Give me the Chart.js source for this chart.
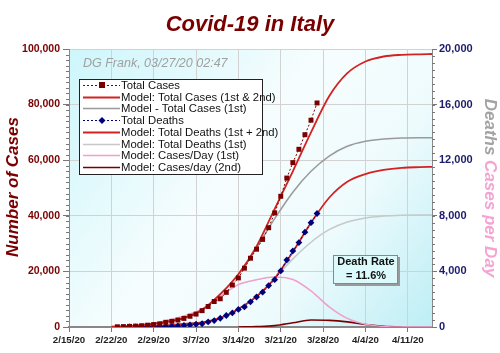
<!DOCTYPE html>
<html>
<head>
<meta charset="utf-8">
<script src="https://cdn.jsdelivr.net/npm/chart.js@4"></script>
<style>
  html, body { margin: 0; padding: 0; background: #fff; }
  #wrap { width: 500px; height: 353px; position: relative; }
</style>
</head>
<body>
<div id="wrap"><canvas id="covidChart" width="500" height="353"></canvas></div>
<script>
// x axis: days since 2/15/20
const tickDays = [0, 7, 14, 21, 28, 35, 42, 49, 56];
const tickLabels = ['2/15/20', '2/22/20', '2/29/20', '3/7/20', '3/14/20', '3/21/20', '3/28/20', '4/4/20', '4/11/20'];

// observed totals (plotted one day after report)
const caseDates = ['2/23', '2/24', '2/25', '2/26', '2/27', '2/28', '2/29', '3/1', '3/2', '3/3', '3/4', '3/5',
  '3/6', '3/7', '3/8', '3/9', '3/10', '3/11', '3/12', '3/13', '3/14', '3/15', '3/16', '3/17', '3/18', '3/19',
  '3/20', '3/21', '3/22', '3/23', '3/24', '3/25', '3/26', '3/27'];
const totalCases = [79, 152, 229, 322, 453, 655, 888, 1128, 1694, 2036, 2502, 3089, 3858, 4636, 5883, 7375,
  9172, 10149, 12462, 15113, 17660, 21157, 24747, 27980, 31506, 35713, 41035, 47021, 53578, 59138, 63927,
  69176, 74386, 80589];
const deathDates = ['2/25', '2/26', '2/27', '2/28', '2/29', '3/1', '3/2', '3/3', '3/4', '3/5', '3/6', '3/7',
  '3/8', '3/9', '3/10', '3/11', '3/12', '3/13', '3/14', '3/15', '3/16', '3/17', '3/18', '3/19', '3/20', '3/21',
  '3/22', '3/23', '3/24', '3/25', '3/26', '3/27'];
const totalDeaths = [7, 10, 12, 17, 21, 29, 34, 52, 79, 107, 148, 197, 233, 366, 463, 631, 827, 1016, 1266,
  1441, 1809, 2158, 2503, 2978, 3405, 4032, 4825, 5476, 6077, 6820, 7503, 8165];

// model curves
const modelDays = [7, 10, 13, 16, 19, 22, 25, 28, 31, 34, 37, 40, 43, 46, 49, 52, 55, 58, 60];
const modelCases12 = [100, 350, 900, 1800, 3300, 6200, 11800, 19000, 29000, 42500, 56000, 70000, 83000, 91300, 95500, 97300, 97900, 98100, 98200];
const modelCases1 = [100, 350, 900, 1800, 3300, 6200, 11800, 19000, 28500, 39000, 48500, 56000, 61500, 65000, 66800, 67600, 68000, 68100, 68100];
const modelDeaths12 = [0, 20, 50, 110, 230, 330, 650, 1300, 2200, 3500, 5400, 7500, 9300, 10450, 11000, 11300, 11450, 11500, 11520];
const modelDeaths1 = [0, 20, 50, 110, 230, 330, 650, 1300, 2200, 3500, 4900, 6100, 7000, 7550, 7850, 7980, 8040, 8060, 8060];
const modelPerDay1 = [0, 80, 220, 450, 800, 1300, 2200, 3050, 3400, 3600, 3420, 2600, 1450, 620, 200, 40, 0, 0, 0];
const modelPerDay2 = [null, null, null, null, null, null, null, 0, 30, 100, 300, 500, 480, 370, 180, 50, 5, null, null];

const legendNames = ['Total Cases', 'Model: Total Cases (1st & 2nd)', 'Model - Total Cases (1st)', 'Total Deaths',
  'Model: Total Deaths (1st + 2nd)', 'Model: Total Deaths (1st)', 'Model: Cases/Day (1st)', 'Model: Cases/day (2nd)'];

const FONT = '"Liberation Sans", Arial, sans-serif';

function dayIndex(md) {
  const [m, d] = md.split('/').map(Number);
  return Math.round((new Date(2020, m - 1, d) - new Date(2020, 1, 15)) / 86400000);
}
function pts(days, vals) {
  return days.map((d, i) => ({ x: typeof d === 'string' ? dayIndex(d) : d, y: vals[i] }));
}

function modelSet(label, vals, color, axis, width) {
  return {
    label: label,
    data: pts(modelDays, vals),
    yAxisID: axis,
    borderColor: color,
    borderWidth: width || 1.6,
    pointRadius: 0,
    cubicInterpolationMode: 'monotone',
    spanGaps: false,
    fill: false
  };
}

const chartDecor = {
  id: 'chartDecor',
  beforeDraw(chart) {
    const { ctx, chartArea: a } = chart;
    ctx.save();
    const g = ctx.createLinearGradient(a.left, a.top, a.right, a.bottom);
    g.addColorStop(0, '#cdf6fb');
    g.addColorStop(0.45, '#f7fdfe');
    g.addColorStop(0.7, '#eefbfd');
    g.addColorStop(1, '#bdeef5');
    ctx.fillStyle = g;
    ctx.fillRect(a.left, a.top, a.right - a.left, a.bottom - a.top);
    ctx.restore();
  },
  afterDatasetsDraw(chart) {
    const { ctx, chartArea: a, scales } = chart;
    ctx.save();
    // minor ticks
    ctx.strokeStyle = '#777';
    ctx.lineWidth = 1;
    const yl = scales.y, yr = scales.y1;
    for (let v = 0; v <= 100000; v += 2000) {
      const py = Math.round(yl.getPixelForValue(v)) + 0.5;
      ctx.beginPath(); ctx.moveTo(a.left - 3, py); ctx.lineTo(a.left, py); ctx.stroke();
    }
    for (let v = 0; v <= 20000; v += 500) {
      const py = Math.round(yr.getPixelForValue(v)) + 0.5;
      ctx.beginPath(); ctx.moveTo(a.right, py); ctx.lineTo(a.right + 3, py); ctx.stroke();
    }

    // title
    ctx.fillStyle = '#7a0000';
    ctx.font = 'italic bold 22px ' + FONT;
    ctx.textAlign = 'center';
    ctx.textBaseline = 'middle';
    ctx.fillText('Covid-19 in Italy', 250, 25);

    // left axis title
    ctx.save();
    ctx.translate(13, 187);
    ctx.rotate(-Math.PI / 2);
    ctx.font = 'italic bold 17px ' + FONT;
    ctx.fillStyle = '#7a0000';
    ctx.fillText('Number of Cases', 0, 0);
    ctx.restore();

    // right axis title, two colours
    ctx.save();
    ctx.translate(490, 188);
    ctx.rotate(Math.PI / 2);
    ctx.font = 'italic bold 17px ' + FONT;
    const p1 = 'Deaths ', p2 = 'Cases per Day';
    const w1 = ctx.measureText(p1).width, w2 = ctx.measureText(p2).width;
    ctx.textAlign = 'left';
    ctx.fillStyle = '#a3a3a3';
    ctx.fillText(p1, -(w1 + w2) / 2, 0);
    ctx.fillStyle = '#f5a3d3';
    ctx.fillText(p2, -(w1 + w2) / 2 + w1, 0);
    ctx.restore();

    // stamp
    ctx.font = 'italic 12.5px ' + FONT;
    ctx.fillStyle = '#a0a0a0';
    ctx.textAlign = 'left';
    ctx.fillText('DG Frank, 03/27/20 02:47', 83, 64);

    // legend box
    const sets = chart.data.datasets;
    ctx.fillStyle = '#fff';
    ctx.fillRect(79, 79, 183, 95);
    ctx.strokeStyle = '#222';
    ctx.lineWidth = 1;
    ctx.strokeRect(79.5, 79.5, 183, 95);
    ctx.font = '11.3px ' + FONT;
    legendNames.forEach((name, i) => {
      const ds = sets[i];
      const y = Math.round(85 + i * 11.7) + 0.5;
      ctx.save();
      ctx.strokeStyle = ds.borderColor;
      ctx.lineWidth = ds.borderDash ? 1 : ds.borderWidth;
      ctx.setLineDash(ds.borderDash || []);
      ctx.beginPath(); ctx.moveTo(83, y); ctx.lineTo(120, y); ctx.stroke();
      ctx.restore();
      if (ds.pointStyle === 'rect') {
        ctx.fillStyle = ds.pointBackgroundColor;
        ctx.fillRect(99, y - 3.5, 6, 6);
      } else if (ds.pointStyle === 'rectRot') {
        ctx.fillStyle = ds.pointBackgroundColor;
        ctx.beginPath();
        ctx.moveTo(102, y - 3.5); ctx.lineTo(105.5, y); ctx.lineTo(102, y + 3.5); ctx.lineTo(98.5, y);
        ctx.closePath(); ctx.fill();
      }
      ctx.fillStyle = '#111';
      ctx.textAlign = 'left';
      ctx.fillText(name, 121, y + 0.5);
    });

    // death rate box
    ctx.fillStyle = '#9a9a9a';
    ctx.fillRect(335, 257, 65, 29);
    ctx.fillStyle = '#dcf9fc';
    ctx.fillRect(333, 255, 65, 29);
    ctx.strokeStyle = '#888';
    ctx.strokeRect(333.5, 255.5, 64, 28);
    ctx.fillStyle = '#111';
    ctx.font = 'bold 11px ' + FONT;
    ctx.textAlign = 'center';
    ctx.fillText('Death Rate', 366, 261.5);
    ctx.fillText('= 11.6%', 366, 276);
    ctx.restore();
  }
};

const ctx = document.getElementById('covidChart').getContext('2d');
const covidChart = new Chart(ctx, {
  type: 'line',
  data: {
    datasets: [{
      label: legendNames[0],
      data: pts(caseDates, totalCases),
      yAxisID: 'y',
      borderColor: '#7a0000',
      borderWidth: 1,
      borderDash: [2, 2],
      pointStyle: 'rect',
      pointRadius: 3.5,
      pointBackgroundColor: '#7a0000',
      pointBorderColor: '#7a0000',
      pointBorderWidth: 0,
      fill: false
    },
    modelSet(legendNames[1], modelCases12, '#d42222', 'y', 1.8),
    modelSet(legendNames[2], modelCases1, '#9a9a9a', 'y', 1.5),
    {
      label: legendNames[3],
      data: pts(deathDates, totalDeaths),
      yAxisID: 'y1',
      borderColor: '#000080',
      borderWidth: 1,
      borderDash: [2, 2],
      pointStyle: 'rectRot',
      pointRadius: 3.4,
      pointBackgroundColor: '#00007a',
      pointBorderColor: '#00007a',
      pointBorderWidth: 0,
      fill: false
    },
    modelSet(legendNames[4], modelDeaths12, '#d42222', 'y1', 1.8),
    modelSet(legendNames[5], modelDeaths1, '#c8c8c8', 'y1', 1.5),
    modelSet(legendNames[6], modelPerDay1, '#f0a0cc', 'y1', 1.5),
    modelSet(legendNames[7], modelPerDay2, '#7a0000', 'y1', 1.6)]
  },
  options: {
    responsive: false,
    animation: false,
    layout: { padding: { top: 49, left: 0, right: 0, bottom: 0 } },
    plugins: {
      legend: { display: false },
      title: { display: false },
      tooltip: { enabled: false }
    },
    scales: {
      x: {
        type: 'linear',
        min: 0,
        max: 60,
        afterBuildTicks: (s) => { s.ticks = tickDays.map(v => ({ value: v })); },
        afterFit: (s) => { s.height = 26; },
        grid: { color: '#d2d2d2', tickLength: 5, tickColor: '#777' },
        border: { color: '#888', width: 2 },
        ticks: {
          callback: (v) => tickLabels[tickDays.indexOf(v)],
          font: { family: FONT, size: 9.7, weight: 'bold' },
          color: '#222',
          padding: 3,
          maxRotation: 0
        }
      },
      y: {
        position: 'left',
        min: 0,
        max: 100000,
        afterFit: (s) => { s.width = 69; },
        grid: { color: '#d2d2d2', tickLength: 6, tickColor: '#777' },
        border: { color: '#888' },
        ticks: {
          stepSize: 20000,
          callback: (v) => v.toLocaleString('en-US'),
          font: { family: FONT, size: 10.5, weight: 'bold' },
          color: '#7a0000',
          padding: 3
        }
      },
      y1: {
        position: 'right',
        min: 0,
        max: 20000,
        afterFit: (s) => { s.width = 68; },
        grid: { drawOnChartArea: false, tickLength: 5, tickColor: '#777' },
        border: { color: '#888' },
        ticks: {
          stepSize: 4000,
          callback: (v) => v.toLocaleString('en-US'),
          font: { family: FONT, size: 11, weight: 'bold' },
          color: '#1c1c6e',
          padding: 2
        }
      }
    }
  },
  plugins: [chartDecor]
});
</script>
</body>
</html>
